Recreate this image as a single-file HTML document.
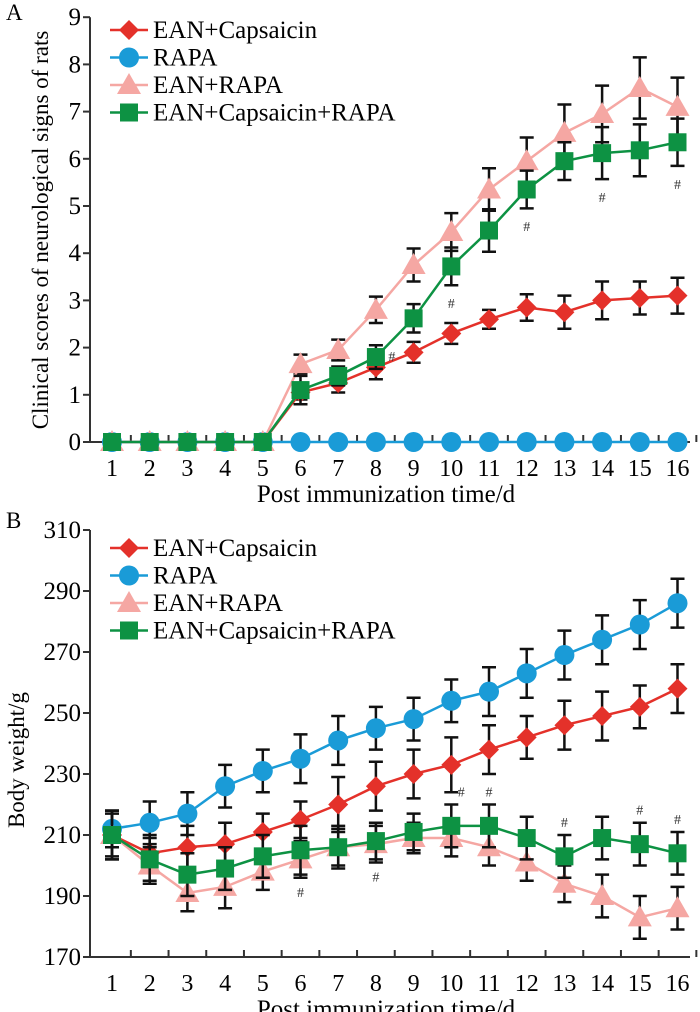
<!DOCTYPE html>
<html><head><meta charset="utf-8"><style>
body{margin:0;background:#fff}
svg{display:block;font-family:"Liberation Serif",serif}
</style></head><body>
<svg id="c" width="700" height="1012"></svg>
<script>
const days=[1,2,3,4,5,6,7,8,9,10,11,12,13,14,15,16];
const aCaps=[0,0,0,0,0,1.05,1.25,1.58,1.9,2.3,2.6,2.85,2.75,3.0,3.05,3.1];
const aCapsErr=[0,0,0,0,0,0.15,0.2,0.25,0.22,0.22,0.2,0.28,0.35,0.4,0.35,0.38];
const aRapa=[0,0,0,0,0,0,0,0,0,0,0,0,0,0,0,0];
const aRapaErr=[0,0,0,0,0,0,0,0,0,0,0,0,0,0,0,0];
const aEanRapa=[0,0,0,0,0,1.65,1.95,2.8,3.75,4.45,5.35,5.95,6.55,6.95,7.5,7.1];
const aEanRapaErr=[0,0,0,0,0,0.2,0.22,0.28,0.35,0.4,0.45,0.5,0.6,0.6,0.65,0.62];
const aCombo=[0,0,0,0,0,1.1,1.4,1.8,2.62,3.72,4.48,5.35,5.95,6.12,6.18,6.35];
const aComboErr=[0,0,0,0,0,0.3,0.2,0.25,0.3,0.4,0.45,0.4,0.4,0.55,0.55,0.5];
const aHash=[8,10,12,14,16];
const bCaps=[210,204,206,207,211,215,220,226,230,233,238,242,246,249,252,258];
const bCapsErr=[7,6,7,7,6,6,9,8,8,9,8,7,8,8,7,8];
const bRapa=[212,214,217,226,231,235,241,245,248,254,257,263,269,274,279,286];
const bRapaErr=[6,7,7,7,7,8,8,7,7,7,8,8,8,8,8,8];
const bEanRapa=[210,200,191,193,198,202,206,207,209,209,206,201,194,190,183,186];
const bEanRapaErr=[8,6,6,7,6,6,6,6,5,6,6,6,6,7,7,7];
const bCombo=[210,202,197,199,203,205,206,208,211,213,213,209,203,209,207,204];
const bComboErr=[8,7,7,7,7,8,7,6,6,7,7,7,7,7,7,7];
const bHash=[6,8,10,11,13,15,16];
const aTicks=[0,1,2,3,4,5,6,7,8,9];
const bTicks=[170,190,210,230,250,270,290,310];
const NS="http://www.w3.org/2000/svg";
const svg=document.getElementById('c');
function el(t,a,p){const e=document.createElementNS(NS,t);for(const k in a)e.setAttribute(k,a[k]);(p||svg).appendChild(e);return e;}
const xOf=d=>112+(d-1)*37.7;
const COL={caps:'#e4312a',rapa:'#1a9bd7',er:'#f5a7a3',combo:'#0d9243'};
function marker(g,type,x,y,c){
 if(type==='d')el('polygon',{points:`${x},${y-10} ${x+10},${y} ${x},${y+10} ${x-10},${y}`,fill:c},g);
 else if(type==='o')el('circle',{cx:x,cy:y,r:10,fill:c},g);
 else if(type==='t')el('polygon',{points:`${x},${y-12} ${x+12},${y+9} ${x-12},${y+9}`,fill:c},g);
 else el('rect',{x:x-9,y:y-9,width:18,height:18,fill:c},g);
}
function panel(o){
 const g=el('g',{});
 
 
 const yOf=v=>o.y0-(v-o.vmin)*o.k;
 const lbl=el('text',{x:6,y:o.labY,'font-size':23},g);lbl.textContent=o.letter;
 
 const ax=el('path',{d:`M90,${yOf(o.ticks[o.ticks.length-1])}V${o.y0}H690`,stroke:'#333',fill:'none','stroke-width':2},g);
 
 o.ticks.forEach(t=>{el('line',{x1:83,x2:90,y1:yOf(t),y2:yOf(t),stroke:'#333','stroke-width':2},g);
  const tx=el('text',{x:81,y:yOf(t)+8,'font-size':25,'text-anchor':'end'},g);tx.textContent=t;
  });
 days.forEach(d=>{el('line',{x1:xOf(d)+18.85,x2:xOf(d)+18.85,y1:o.y0,y2:o.y0-7,stroke:'#333','stroke-width':2},g);
  const tx=el('text',{x:xOf(d),y:o.y0+34,'font-size':24,'text-anchor':'middle'},g);tx.textContent=d;
  });
 const xt=el('text',{x:386,y:o.y0+60,'font-size':25,'text-anchor':'middle'},g);xt.textContent='Post immunization time/d';
 
 const yt=el('text',{x:0,y:0,'font-size':23,'text-anchor':'middle',transform:`translate(${o.ytX},${o.ytY}) rotate(-90)`},g);yt.textContent=o.ytitle;
 
 o.series.forEach(s=>{
  const sg=el('g',{},g);
  
  s.v.forEach((v,i)=>{const e=s.e[i];if(!e)return;const x=xOf(days[i]);
   el('path',{d:`M${x},${yOf(v-e)}V${yOf(v+e)}M${x-7},${yOf(v-e)}h14M${x-7},${yOf(v+e)}h14`,stroke:'#111','stroke-width':2.5,fill:'none'},sg);});
  el('polyline',{points:s.v.map((v,i)=>xOf(days[i])+','+yOf(v)).join(' '),fill:'none',stroke:s.c,'stroke-width':2.5},sg);
  s.v.forEach((v,i)=>marker(sg,s.m,xOf(days[i]),yOf(v),s.c));
 });
 o.hash.forEach(h=>{const i=days.indexOf(h);const p=o.hp(h,i);
  const tx=el('text',{x:xOf(h)+p[0],y:yOf(p[1])+4,'font-size':14,'text-anchor':'middle',fill:'#333'},g);tx.textContent='#';
  });
 o.series.forEach((s,j)=>{const y=o.legY+j*o.legGap;
  const lg=el('g',{},g);
  el('line',{x1:110,x2:148,y1:y,y2:y,stroke:s.c,'stroke-width':2.5},lg);marker(lg,s.m,129,y,s.c);
  const tx=el('text',{x:153,y:y+8,'font-size':25},lg);tx.textContent=s.name;});
}
const names=['EAN+Capsaicin','RAPA','EAN+RAPA','EAN+Capsaicin+RAPA'];
panel({name:'panel-a',letter:'A',labY:20,y0:442,vmin:0,k:47.2,ticks:aTicks,ytitle:'Clinical scores of neurological signs of rats',ytX:48,ytY:230,
 legY:30,legGap:27.5,hash:aHash,hp:(h,i)=>h===8?[16,aCombo[i]]:[0,aCombo[i]-aComboErr[i]-0.4],
 series:[{key:'ean-capsaicin',name:names[0],v:aCaps,e:aCapsErr,c:COL.caps,m:'d'},{key:'rapa',name:names[1],v:aRapa,e:aRapaErr,c:COL.rapa,m:'o'},
 {key:'ean-rapa',name:names[2],v:aEanRapa,e:aEanRapaErr,c:COL.er,m:'t'},{key:'ean-capsaicin-rapa',name:names[3],v:aCombo,e:aComboErr,c:COL.combo,m:'s'}]});
panel({name:'panel-b',letter:'B',labY:528,y0:957,vmin:170,k:61/20,ticks:bTicks,ytitle:'Body weight/g',ytX:24,ytY:760,
 legY:548,legGap:27.5,hash:bHash,hp:(h,i)=>(i<9?[0,bEanRapa[i]-bEanRapaErr[i]-5]:[h===10?10:0,bCombo[i]+bComboErr[i]+4]),
 series:[{key:'ean-capsaicin',name:names[0],v:bCaps,e:bCapsErr,c:COL.caps,m:'d'},{key:'rapa',name:names[1],v:bRapa,e:bRapaErr,c:COL.rapa,m:'o'},
 {key:'ean-rapa',name:names[2],v:bEanRapa,e:bEanRapaErr,c:COL.er,m:'t'},{key:'ean-capsaicin-rapa',name:names[3],v:bCombo,e:bComboErr,c:COL.combo,m:'s'}]});
</script>
</body></html>
